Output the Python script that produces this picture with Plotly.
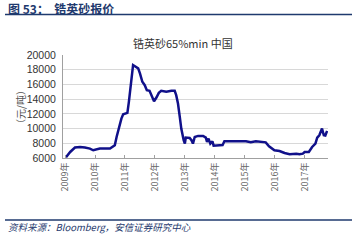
import plotly.graph_objects as go

# decimal-year positions and prices (元/吨)
years = [2009.03, 2009.17, 2009.33, 2009.5, 2009.66, 2009.83, 2009.94, 2010.05, 2010.16, 2010.5,
         2010.6, 2010.66, 2010.72, 2010.77, 2010.88, 2010.94, 2011.08, 2011.13, 2011.19, 2011.27,
         2011.32, 2011.44, 2011.5, 2011.58, 2011.66, 2011.73, 2011.82, 2011.91, 2011.97, 2012.05,
         2012.13, 2012.21, 2012.38, 2012.55, 2012.66, 2012.71, 2012.77, 2012.83, 2012.88, 2012.96,
         2013.0, 2013.03, 2013.16, 2013.22, 2013.27, 2013.33, 2013.44, 2013.61, 2013.7, 2013.74,
         2013.79, 2013.85, 2013.92, 2013.96, 2014.1, 2014.26, 2014.32, 2014.59, 2015.04, 2015.2,
         2015.37, 2015.7, 2015.81, 2015.99, 2016.16, 2016.33, 2016.5, 2016.72, 2016.83, 2016.94,
         2017.0, 2017.14, 2017.25, 2017.36, 2017.42, 2017.49, 2017.58, 2017.64, 2017.69, 2017.75]
prices = [6100, 6820, 7420, 7500, 7420, 7280, 7050, 7140, 7280, 7280,
          7500, 7730, 8860, 9770, 11360, 11950, 12130, 13630, 16130, 18630,
          18500, 18180, 17500, 16360, 15900, 15220, 15130, 14400, 13720, 14220,
          14860, 15130, 15000, 15130, 15130, 14540, 13400, 11590, 10000, 8410,
          7960, 8770, 8730, 8410, 7960, 8860, 9000, 9000, 8770, 8180,
          8640, 7960, 8270, 7680, 7680, 7770, 8270, 8270, 8270, 8130,
          8270, 8130, 7590, 7050, 6950, 6680, 6500, 6590, 6500, 6590,
          6820, 6820, 7500, 7960, 8770, 9090, 10000, 9090, 9050, 9680]
tick_years = [2009, 2010, 2011, 2012, 2013, 2014, 2015, 2016, 2017]
tick_labels = [f"{y}年" for y in tick_years]
y_ticks = [6000, 8000, 10000, 12000, 14000, 16000, 18000, 20000]
y_labels = [str(v) for v in y_ticks]

W, H = 361, 243
L, R, T, B = 63, 33, 55, 85
pw, ph = W - L - R, H - T - B

def px(x):
    return (x - L) / pw

def py(y):
    return (H - B - y) / ph

fig = go.Figure()
fig.add_trace(go.Scatter(x=years, y=prices, mode="lines",
                         line=dict(color="#10108a", width=2.5), showlegend=False,
                         hoverinfo="skip"))

font_cjk = "Noto Sans CJK SC"
fig.update_layout(
    width=W, height=H, margin=dict(l=L, r=R, t=T, b=B),
    paper_bgcolor="white", plot_bgcolor="white",
    xaxis=dict(range=[2008.93, 2017.78], tickvals=tick_years, ticktext=tick_labels,
               tickangle=-90, showgrid=False, showline=True, linecolor="#a0a0a0",
               ticks="inside", ticklen=3, tickcolor="#a0a0a0",
               tickfont=dict(family=font_cjk, size=9, color="#666666"), zeroline=False),
    yaxis=dict(range=[6000, 20000], tickvals=y_ticks, ticktext=y_labels, showgrid=True,
               gridcolor="#d8d8d8", gridwidth=1, showline=True, linecolor="#a0a0a0",
               zeroline=False, ticklabelstandoff=4,
               tickfont=dict(family="Liberation Sans", size=10.5, color="#333333")),
)

annotations = [
    dict(text="<b>图 53：  锆英砂报价</b>", x=px(6), y=py(8), xanchor="left", yanchor="middle",
         font=dict(family=font_cjk, size=12, color="#1f3a6e")),
    dict(text="锆英砂65%min 中国", x=px(183), y=py(43), xanchor="center", yanchor="middle",
         font=dict(family=font_cjk, size=11, color="#333333")),
    dict(text="（元/吨）", x=px(20), y=py(107), xanchor="center", yanchor="middle", textangle=-90,
         font=dict(family=font_cjk, size=10, color="#555555")),
    dict(text="<i>资料来源：Bloomberg，安信证券研究中心</i>", x=px(6), y=py(227), xanchor="left",
         yanchor="middle", font=dict(family=font_cjk, size=9.5, color="#1f3a6e")),
]
for a in annotations:
    a.update(xref="paper", yref="paper", showarrow=False)
fig.update_layout(annotations=annotations)

fig.add_shape(type="line", xref="paper", yref="paper", x0=px(5), x1=px(352), y0=py(14.5), y1=py(14.5),
              line=dict(color="#1f3a6e", width=1.5))
fig.add_shape(type="line", xref="paper", yref="paper", x0=px(5), x1=px(352), y0=py(220), y1=py(220),
              line=dict(color="#1f3a6e", width=1.5))

fig.write_html("out.html")
